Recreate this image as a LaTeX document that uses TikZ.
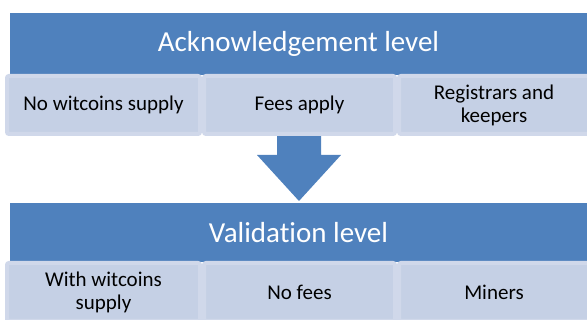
\documentclass[tikz,border=0pt]{standalone}
\usepackage{fontspec}
\setmainfont{Carlito}[Ligatures=NoCommon]
\usetikzlibrary{positioning}
\definecolor{levelblue}{RGB}{79,129,189}
\definecolor{itemfill}{RGB}{197,208,229}
\definecolor{itemline}{RGB}{208,216,234}
\tikzset{
  levelbox/.style={rectangle, fill=levelblue, text=white, inner sep=0pt,
    minimum width=577pt, minimum height=62pt, font=\fontsize{29}{34}\selectfont},
  itembox/.style={rectangle, rounded corners=2pt, fill=itemfill, draw=itemline,
    line width=4pt, inner sep=0pt, minimum height=58pt, align=center,
    font=\fontsize{21}{23}\selectfont},
}
\begin{document}
\begin{tikzpicture}[x=1pt, y=1pt]
			\useasboundingbox (0,0) rectangle (587,320);
			\clip (0,0) rectangle (587,320);
			% arrow between the two levels
			\fill[levelblue] (277,186)--(277,165)--(257,165)--(299,119)--(341,165)--(321,165)--(321,186)--cycle;
			% acknowledgement level
			\node[levelbox] (ack) at (298.5,276) {Acknowledgement level};
			\node[itembox, minimum width=193pt, anchor=north west] (ack1) at (5,246) {No witcoins supply};
			\node[itembox, minimum width=191pt, right=0pt of ack1] (ack2) {Fees apply};
			\node[itembox, minimum width=190pt, right=0pt of ack2] (ack3) {Registrars and\\keepers};
			% validation level
			\node[levelbox, minimum height=59pt] (val) at (298.5,87.5) {Validation level};
			\node[itembox, minimum width=193pt, anchor=north west] (val1) at (5,59) {With witcoins\\supply};
			\node[itembox, minimum width=191pt, right=0pt of val1] (val2) {No fees};
			\node[itembox, minimum width=190pt, right=0pt of val2] (val3) {Miners};
		\end{tikzpicture}
\end{document}
